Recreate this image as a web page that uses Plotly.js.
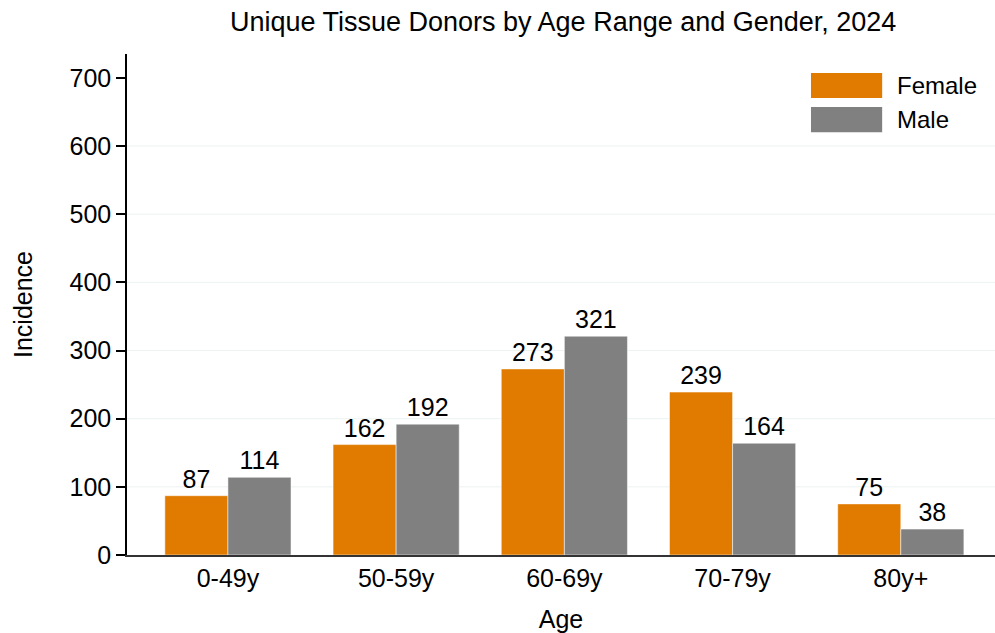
<!DOCTYPE html>
<html>
<head>
<meta charset="utf-8">
<script src="https://cdn.plot.ly/plotly-3.0.1.min.js"></script>
<style>html,body{margin:0;padding:0;background:#fff;}#chart{width:995px;height:633px;}</style>
</head>
<body>
<div id="chart"></div>
<script>
const categories = ["0-49y", "50-59y", "60-69y", "70-79y", "80y+"];
const female = [87, 162, 273, 239, 75];
const male = [114, 192, 321, 164, 38];
const yTicks = [0, 100, 200, 300, 400, 500, 600, 700];
const gridValues = [100, 200, 300, 400, 500, 600];
const seriesNames = ["Female", "Male"];
const seriesColors = ["#E07B00", "#808080"];

const FONT = "Liberation Sans, Arial, sans-serif";

const traces = [female, male].map((vals, i) => ({
  type: "bar",
  name: seriesNames[i],
  x: categories,
  y: vals,
  text: vals.map(String),
  textposition: "outside",
  cliponaxis: false,
  textfont: {family: FONT, size: 25, color: "#000"},
  marker: {color: seriesColors[i], line: {color: "#fff", width: 0.5}},
  showlegend: false,
  hoverinfo: "x+y"
}));

const shapes = gridValues.map(v => ({
  type: "line", xref: "paper", yref: "y", x0: 0, x1: 1, y0: v, y1: v,
  line: {color: "#EDF2F2", width: 1}, layer: "below"
}));

// custom legend (large swatches)
const legendBoxes = [[0.962, 0.912], [0.894, 0.844]];
const annotations = [];
seriesNames.forEach((n, i) => {
  shapes.push({type: "rect", xref: "paper", yref: "paper",
    x0: 0.788, x1: 0.870, y0: legendBoxes[i][1], y1: legendBoxes[i][0],
    fillcolor: seriesColors[i], line: {width: 0}});
  annotations.push({xref: "paper", yref: "paper", x: 0.885,
    y: (legendBoxes[i][0] + legendBoxes[i][1]) / 2,
    xanchor: "left", yanchor: "middle", text: n, showarrow: false,
    font: {family: FONT, size: 24, color: "#000"}});
});

const layout = {
  width: 995, height: 633,
  margin: {l: 127, r: 0, t: 54, b: 78},
  paper_bgcolor: "#fff", plot_bgcolor: "#fff",
  barmode: "group", bargap: 0.25, bargroupgap: 0,
  title: {text: "Unique Tissue Donors by Age Range and Gender, 2024",
    x: 0.566, xanchor: "center", y: 0.966, yanchor: "middle",
    font: {family: FONT, size: 27, color: "#000"}},
  xaxis: {
    type: "category", range: [-0.6, 4.56],
    showline: true, linecolor: "#333", linewidth: 1.5,
    ticks: "", showgrid: false, zeroline: false,
    tickfont: {family: FONT, size: 25, color: "#000"},
    title: {text: "Age", standoff: 20, font: {family: FONT, size: 25, color: "#000"}}
  },
  yaxis: {
    range: [0, 735], tickvals: yTicks, ticktext: yTicks.map(String),
    showline: true, linecolor: "#000", linewidth: 1.5,
    ticks: "outside", ticklen: 9, tickwidth: 1.5, tickcolor: "#000",
    showgrid: false, zeroline: false,
    tickfont: {family: FONT, size: 25, color: "#000"},
    title: {text: "Incidence", standoff: 30, font: {family: FONT, size: 25, color: "#000"}}
  },
  shapes: shapes,
  annotations: annotations,
  showlegend: false
};

Plotly.newPlot("chart", traces, layout, {displayModeBar: false, responsive: false});
</script>
</body>
</html>
